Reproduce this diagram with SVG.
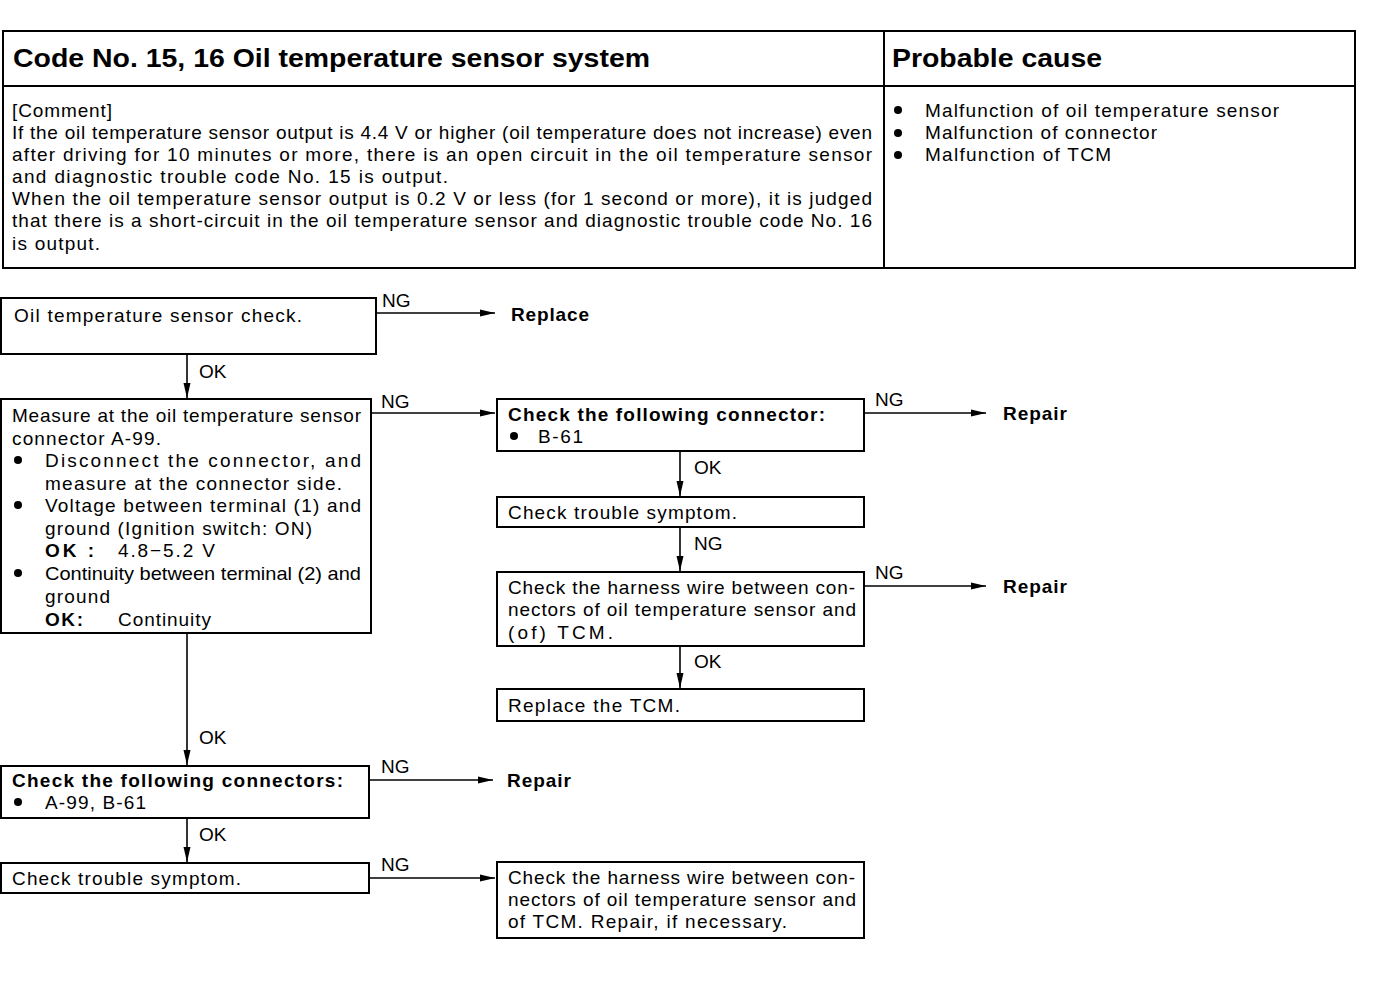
<svg xmlns="http://www.w3.org/2000/svg" width="1376" height="982" viewBox="0 0 1376 982">
<style>
text{font-family:"Liberation Sans",Arial,sans-serif;font-size:19px;fill:#000}
.b{font-weight:bold}
.h{font-weight:bold;font-size:26px}
.box{fill:#fff;stroke:#000;stroke-width:2}
.tb{fill:none;stroke:#000;stroke-width:2}
.c{stroke:#000;stroke-width:1.6;fill:none;marker-end:url(#ah)}
</style>
<defs>
<marker id="ah" markerUnits="userSpaceOnUse" markerWidth="16" markerHeight="10" refX="15" refY="5" orient="auto">
<path d="M0,1.5 L15,5 L0,8.5 Z" fill="#000"/>
</marker>
</defs>
<rect width="1376" height="982" fill="#fff"/>

<g id="table">
<rect class="tb" x="3" y="31" width="1352" height="237"/>
<line class="tb" x1="3" y1="86" x2="1355" y2="86"/>
<line class="tb" x1="884" y1="31" x2="884" y2="268"/>
<text class="h" x="13" y="67" textLength="637" lengthAdjust="spacingAndGlyphs">Code No. 15, 16 Oil temperature sensor system</text>
<text class="h" x="892" y="67" textLength="210" lengthAdjust="spacingAndGlyphs">Probable cause</text>
<text x="12" y="117" textLength="100" lengthAdjust="spacing">[Comment]</text>
<text x="12" y="139" textLength="860" lengthAdjust="spacing">If the oil temperature sensor output is 4.4 V or higher (oil temperature does not increase) even</text>
<text x="12" y="161" textLength="860" lengthAdjust="spacing">after driving for 10 minutes or more, there is an open circuit in the oil temperature sensor</text>
<text x="12" y="183" textLength="436" lengthAdjust="spacing">and diagnostic trouble code No. 15 is output.</text>
<text x="12" y="205" textLength="860" lengthAdjust="spacing">When the oil temperature sensor output is 0.2 V or less (for 1 second or more), it is judged</text>
<text x="12" y="227" textLength="860" lengthAdjust="spacing">that there is a short-circuit in the oil temperature sensor and diagnostic trouble code No. 16</text>
<text x="12" y="250" textLength="88" lengthAdjust="spacing">is output.</text>
<circle cx="898" cy="110" r="4"/>
<circle cx="898" cy="133" r="4"/>
<circle cx="898" cy="155" r="4"/>
<text x="925" y="117" textLength="354" lengthAdjust="spacing">Malfunction of oil temperature sensor</text>
<text x="925" y="139" textLength="232" lengthAdjust="spacing">Malfunction of connector</text>
<text x="925" y="161" textLength="186" lengthAdjust="spacing">Malfunction of TCM</text>
</g>

<g id="connectors">
<line class="c" x1="376" y1="313" x2="495" y2="313"/>
<line class="c" x1="187" y1="354" x2="187" y2="398"/>
<line class="c" x1="371" y1="413" x2="495" y2="413"/>
<line class="c" x1="864" y1="413" x2="986" y2="413"/>
<line class="c" x1="680" y1="451" x2="680" y2="496"/>
<line class="c" x1="680" y1="527" x2="680" y2="571"/>
<line class="c" x1="864" y1="586" x2="986" y2="586"/>
<line class="c" x1="680" y1="646" x2="680" y2="688"/>
<line class="c" x1="187" y1="633" x2="187" y2="765"/>
<line class="c" x1="369" y1="780" x2="493" y2="780"/>
<line class="c" x1="187" y1="818" x2="187" y2="862"/>
<line class="c" x1="369" y1="878" x2="495" y2="878"/>
<text x="382" y="307">NG</text>
<text x="199" y="378">OK</text>
<text x="381" y="408">NG</text>
<text x="875" y="406">NG</text>
<text x="694" y="474">OK</text>
<text x="694" y="550">NG</text>
<text x="875" y="579">NG</text>
<text x="694" y="668">OK</text>
<text x="199" y="744">OK</text>
<text x="381" y="773">NG</text>
<text x="199" y="841">OK</text>
<text x="381" y="871">NG</text>
</g>

<g id="n1">
<rect class="box" x="1" y="298" width="375" height="56"/>
<text x="14" y="322" textLength="288" lengthAdjust="spacing">Oil temperature sensor check.</text>
</g>
<g id="replace1"><text class="b" x="511" y="321" textLength="78" lengthAdjust="spacing">Replace</text></g>

<g id="n2">
<rect class="box" x="1" y="399" width="370" height="234"/>
<text x="12" y="422" textLength="349" lengthAdjust="spacing">Measure at the oil temperature sensor</text>
<text x="12" y="445" textLength="149" lengthAdjust="spacing">connector A-99.</text>
<circle cx="18" cy="460" r="4"/>
<text x="45" y="467" textLength="316" lengthAdjust="spacing">Disconnect the connector, and</text>
<text x="45" y="490" textLength="297" lengthAdjust="spacing">measure at the connector side.</text>
<circle cx="18" cy="505" r="4"/>
<text x="45" y="512" textLength="316" lengthAdjust="spacing">Voltage between terminal (1) and</text>
<text x="45" y="535" textLength="267" lengthAdjust="spacing">ground (Ignition switch: ON)</text>
<text class="b" x="45" y="557" textLength="49" lengthAdjust="spacing">OK :</text>
<text x="118" y="557" textLength="97" lengthAdjust="spacing">4.8−5.2 V</text>
<circle cx="18" cy="573" r="4"/>
<text x="45" y="580" textLength="316" lengthAdjust="spacingAndGlyphs">Continuity between terminal (2) and</text>
<text x="45" y="603" textLength="65" lengthAdjust="spacing">ground</text>
<text class="b" x="45" y="626" textLength="38" lengthAdjust="spacing">OK:</text>
<text x="118" y="626" textLength="93" lengthAdjust="spacing">Continuity</text>
</g>

<g id="n3">
<rect class="box" x="497" y="399" width="367" height="52"/>
<text class="b" x="508" y="421" textLength="317" lengthAdjust="spacing">Check the following connector:</text>
<circle cx="514" cy="436" r="4"/>
<text x="538" y="443" textLength="45" lengthAdjust="spacing">B-61</text>
</g>
<g id="repair1"><text class="b" x="1003" y="420" textLength="64" lengthAdjust="spacing">Repair</text></g>

<g id="n4">
<rect class="box" x="497" y="497" width="367" height="30"/>
<text x="508" y="519" textLength="229" lengthAdjust="spacing">Check trouble symptom.</text>
</g>

<g id="n5">
<rect class="box" x="497" y="572" width="367" height="74"/>
<text x="508" y="594" textLength="347" lengthAdjust="spacing">Check the harness wire between con-</text>
<text x="508" y="616" textLength="348" lengthAdjust="spacing">nectors of oil temperature sensor and</text>
<text x="508" y="639" textLength="105" lengthAdjust="spacing">(of) TCM.</text>
</g>
<g id="repair2"><text class="b" x="1003" y="593" textLength="64" lengthAdjust="spacing">Repair</text></g>

<g id="n6">
<rect class="box" x="497" y="689" width="367" height="32"/>
<text x="508" y="712" textLength="172" lengthAdjust="spacing">Replace the TCM.</text>
</g>

<g id="n7">
<rect class="box" x="1" y="766" width="368" height="52"/>
<text class="b" x="12" y="787" textLength="331" lengthAdjust="spacing">Check the following connectors:</text>
<circle cx="18" cy="802" r="4"/>
<text x="45" y="809" textLength="101" lengthAdjust="spacing">A-99, B-61</text>
</g>
<g id="repair3"><text class="b" x="507" y="787" textLength="64" lengthAdjust="spacing">Repair</text></g>

<g id="n8">
<rect class="box" x="1" y="863" width="368" height="30"/>
<text x="12" y="885" textLength="229" lengthAdjust="spacing">Check trouble symptom.</text>
</g>

<g id="n9">
<rect class="box" x="497" y="862" width="367" height="76"/>
<text x="508" y="884" textLength="347" lengthAdjust="spacing">Check the harness wire between con-</text>
<text x="508" y="906" textLength="348" lengthAdjust="spacing">nectors of oil temperature sensor and</text>
<text x="508" y="928" textLength="279" lengthAdjust="spacing">of TCM. Repair, if necessary.</text>
</g>
</svg>
